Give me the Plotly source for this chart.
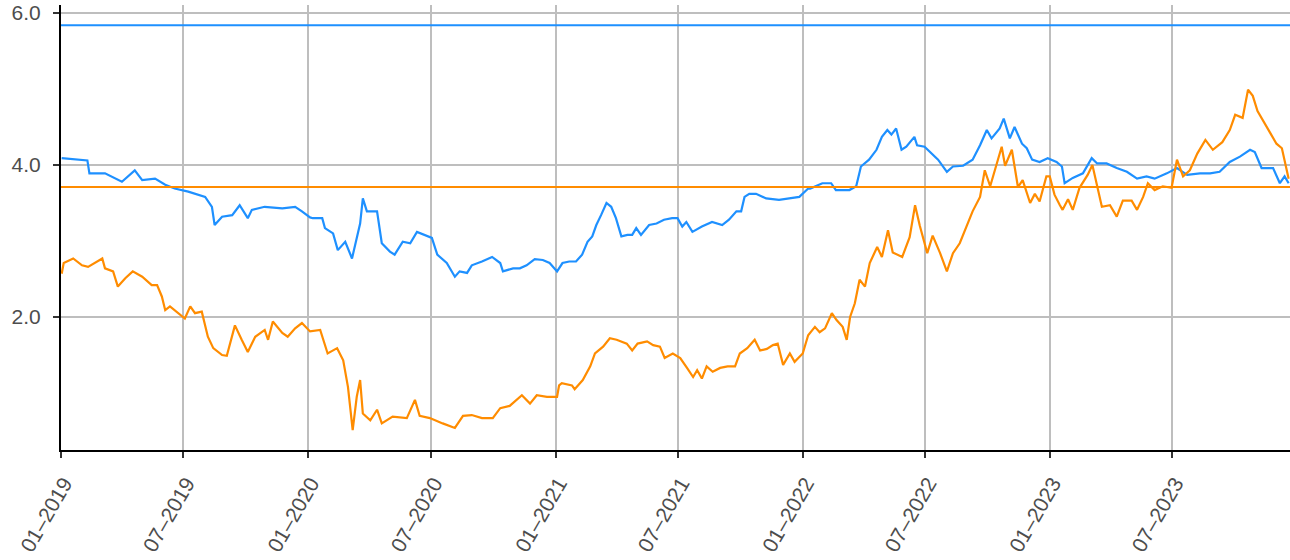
import plotly.graph_objects as go

blue_dates = [
    "2019-01-02", "2019-02-05", "2019-02-09", "2019-02-12", "2019-03-07", "2019-04-01", "2019-04-20",
    "2019-05-01", "2019-05-20", "2019-06-04", "2019-06-18", "2019-07-08", "2019-08-02", "2019-08-12",
    "2019-08-16", "2019-08-27", "2019-09-11", "2019-09-22", "2019-10-04", "2019-10-10", "2019-10-29",
    "2019-11-24", "2019-12-13", "2019-12-23", "2020-01-04", "2020-01-08", "2020-01-22", "2020-01-26",
    "2020-02-07", "2020-02-14", "2020-02-25", "2020-03-06", "2020-03-13", "2020-03-18", "2020-03-22",
    "2020-03-28", "2020-04-12", "2020-04-19", "2020-05-01", "2020-05-08", "2020-05-20", "2020-05-31",
    "2020-06-10", "2020-06-25", "2020-07-02", "2020-07-10", "2020-07-24", "2020-08-05", "2020-08-12",
    "2020-08-23", "2020-08-30", "2020-09-14", "2020-09-29", "2020-10-11", "2020-10-15", "2020-10-30",
    "2020-11-09", "2020-11-19", "2020-12-01", "2020-12-13", "2020-12-23", "2021-01-03", "2021-01-11",
    "2021-01-21", "2021-01-31", "2021-02-09", "2021-02-17", "2021-02-24", "2021-03-02", "2021-03-09",
    "2021-03-17", "2021-03-24", "2021-03-31", "2021-04-08", "2021-04-17", "2021-04-24", "2021-04-30",
    "2021-05-07", "2021-05-19", "2021-05-30", "2021-06-10", "2021-06-22", "2021-06-30", "2021-07-07",
    "2021-07-13", "2021-07-22", "2021-08-05", "2021-08-20", "2021-09-04", "2021-09-14", "2021-09-25",
    "2021-10-02", "2021-10-07", "2021-10-14", "2021-10-24", "2021-11-08", "2021-11-27", "2021-12-12",
    "2021-12-27", "2022-01-09", "2022-01-12", "2022-01-30", "2022-02-12", "2022-02-19", "2022-03-11",
    "2022-03-21", "2022-03-28", "2022-04-09", "2022-04-20", "2022-04-28", "2022-05-06", "2022-05-12",
    "2022-05-19", "2022-05-27", "2022-06-03", "2022-06-15", "2022-06-19", "2022-06-30", "2022-07-11",
    "2022-07-20", "2022-08-02", "2022-08-11", "2022-08-26", "2022-09-09", "2022-09-20", "2022-09-30",
    "2022-10-07", "2022-10-19", "2022-10-25", "2022-11-03", "2022-11-10", "2022-11-21", "2022-11-28",
    "2022-12-06", "2022-12-17", "2022-12-29", "2023-01-11", "2023-01-19", "2023-01-23", "2023-02-04",
    "2023-02-19", "2023-03-04", "2023-03-12", "2023-03-26", "2023-04-10", "2023-04-25", "2023-05-10",
    "2023-05-24", "2023-06-05", "2023-06-23", "2023-07-08", "2023-07-23", "2023-08-11", "2023-08-26",
    "2023-09-09", "2023-09-24", "2023-10-09", "2023-10-24", "2023-10-31", "2023-11-10", "2023-11-27",
    "2023-12-07", "2023-12-14", "2023-12-20",
]
blue_values = [
    4.09, 4.07, 4.06, 3.89, 3.89, 3.78, 3.93,
    3.80, 3.82, 3.74, 3.69, 3.65, 3.58, 3.45,
    3.21, 3.32, 3.34, 3.47, 3.30, 3.41, 3.45,
    3.43, 3.45, 3.39, 3.31, 3.30, 3.30, 3.17,
    3.10, 2.88, 2.99, 2.77, 3.03, 3.23, 3.56,
    3.39, 3.39, 2.97, 2.86, 2.82, 2.99, 2.97,
    3.12, 3.06, 3.04, 2.82, 2.71, 2.53, 2.60,
    2.58, 2.68, 2.73, 2.79, 2.71, 2.60, 2.64,
    2.64, 2.68, 2.76, 2.75, 2.71, 2.60, 2.71,
    2.73, 2.73, 2.82, 2.99, 3.06, 3.21, 3.34,
    3.50, 3.45, 3.30, 3.06, 3.08, 3.08, 3.17,
    3.08, 3.21, 3.23, 3.28, 3.30, 3.30, 3.19,
    3.25, 3.12, 3.19, 3.25, 3.21, 3.28, 3.39,
    3.39, 3.58, 3.62, 3.62, 3.56, 3.54, 3.56,
    3.58, 3.69, 3.69, 3.76, 3.76, 3.67, 3.67,
    3.72, 3.98, 4.07, 4.20, 4.37, 4.46, 4.40,
    4.48, 4.20, 4.24, 4.37, 4.26, 4.24, 4.15,
    4.07, 3.91, 3.98, 3.99, 4.07, 4.26, 4.46,
    4.35, 4.48, 4.61, 4.35, 4.50, 4.28, 4.22,
    4.07, 4.04, 4.09, 4.04, 3.98, 3.76, 3.83,
    3.89, 4.09, 4.02, 4.02, 3.96, 3.91, 3.82,
    3.85, 3.82, 3.89, 3.96, 3.87, 3.89, 3.89,
    3.91, 4.04, 4.11, 4.20, 4.17, 3.96, 3.96,
    3.76, 3.85, 3.76,
]

orange_dates = [
    "2019-01-02", "2019-01-05", "2019-01-19", "2019-02-01", "2019-02-10", "2019-03-03", "2019-03-07",
    "2019-03-19", "2019-03-26", "2019-04-06", "2019-04-17", "2019-05-01", "2019-05-15", "2019-05-23",
    "2019-05-30", "2019-06-04", "2019-06-11", "2019-06-23", "2019-07-03", "2019-07-11", "2019-07-18",
    "2019-07-28", "2019-08-06", "2019-08-14", "2019-08-27", "2019-09-03", "2019-09-15", "2019-09-25",
    "2019-10-04", "2019-10-15", "2019-10-29", "2019-11-03", "2019-11-10", "2019-11-24", "2019-12-02",
    "2019-12-13", "2019-12-23", "2020-01-04", "2020-01-19", "2020-01-30", "2020-02-13", "2020-02-22",
    "2020-02-29", "2020-03-07", "2020-03-13", "2020-03-18", "2020-03-22", "2020-04-02", "2020-04-12",
    "2020-04-19", "2020-05-05", "2020-05-26", "2020-06-07", "2020-06-14", "2020-06-29", "2020-07-18",
    "2020-08-05", "2020-08-17", "2020-08-30", "2020-09-14", "2020-09-30", "2020-10-11", "2020-10-25",
    "2020-11-12", "2020-11-24", "2020-12-04", "2020-12-19", "2021-01-03", "2021-01-06", "2021-01-10",
    "2021-01-25", "2021-01-29", "2021-02-10", "2021-02-21", "2021-02-28", "2021-03-12", "2021-03-22",
    "2021-04-01", "2021-04-16", "2021-04-24", "2021-05-02", "2021-05-16", "2021-05-25", "2021-06-04",
    "2021-06-11", "2021-06-23", "2021-07-04", "2021-07-14", "2021-07-23", "2021-07-29", "2021-08-05",
    "2021-08-12", "2021-08-21", "2021-09-01", "2021-09-12", "2021-09-23", "2021-09-30", "2021-10-11",
    "2021-10-22", "2021-10-30", "2021-11-09", "2021-11-18", "2021-11-25", "2021-12-03", "2021-12-13",
    "2021-12-20", "2022-01-01", "2022-01-09", "2022-01-19", "2022-01-26", "2022-02-03", "2022-02-13",
    "2022-02-20", "2022-03-01", "2022-03-07", "2022-03-12", "2022-03-19", "2022-03-26", "2022-04-03",
    "2022-04-10", "2022-04-21", "2022-04-28", "2022-05-07", "2022-05-14", "2022-05-28", "2022-06-08",
    "2022-06-16", "2022-06-23", "2022-07-04", "2022-07-12", "2022-07-23", "2022-08-02", "2022-08-11",
    "2022-08-21", "2022-09-01", "2022-09-09", "2022-09-20", "2022-09-27", "2022-10-05", "2022-10-15",
    "2022-10-22", "2022-10-27", "2022-11-06", "2022-11-15", "2022-11-22", "2022-12-03", "2022-12-10",
    "2022-12-17", "2022-12-27", "2023-01-01", "2023-01-08", "2023-01-16", "2023-01-20", "2023-01-28",
    "2023-02-04", "2023-02-14", "2023-02-26", "2023-03-05", "2023-03-13", "2023-03-19", "2023-03-31",
    "2023-04-10", "2023-04-19", "2023-05-02", "2023-05-10", "2023-05-19", "2023-05-26", "2023-06-05",
    "2023-06-17", "2023-06-30", "2023-07-08", "2023-07-17", "2023-07-27", "2023-08-07", "2023-08-19",
    "2023-08-30", "2023-09-13", "2023-09-24", "2023-10-02", "2023-10-13", "2023-10-21", "2023-10-28",
    "2023-11-04", "2023-11-12", "2023-11-22", "2023-12-02", "2023-12-10", "2023-12-17", "2023-12-20",
]
orange_values = [
    2.57, 2.71, 2.77, 2.68, 2.66, 2.77, 2.64,
    2.60, 2.40, 2.51, 2.60, 2.53, 2.42, 2.42,
    2.27, 2.09, 2.14, 2.05, 1.98, 2.14, 2.05,
    2.07, 1.74, 1.59, 1.50, 1.49, 1.89, 1.70,
    1.54, 1.74, 1.83, 1.70, 1.94, 1.79, 1.74,
    1.85, 1.92, 1.81, 1.83, 1.52, 1.59, 1.43,
    1.08, 0.51, 0.95, 1.17, 0.73, 0.64, 0.78,
    0.60, 0.69, 0.67, 0.91, 0.70, 0.67, 0.60,
    0.54, 0.70, 0.71, 0.67, 0.67, 0.80, 0.83,
    0.97, 0.86, 0.97, 0.95, 0.95, 1.10, 1.13,
    1.10, 1.05, 1.17, 1.35, 1.52, 1.61, 1.72,
    1.70, 1.65, 1.56, 1.65, 1.68, 1.63, 1.61,
    1.46, 1.52, 1.46, 1.33, 1.21, 1.30, 1.19,
    1.35, 1.28, 1.33, 1.35, 1.35, 1.52, 1.59,
    1.70, 1.56, 1.58, 1.63, 1.65, 1.37, 1.52,
    1.41, 1.52, 1.76, 1.87, 1.80, 1.85, 2.05,
    1.96, 1.87, 1.70, 2.00, 2.18, 2.49, 2.40,
    2.71, 2.92, 2.79, 3.14, 2.85, 2.79, 3.05,
    3.47, 3.20, 2.84, 3.07, 2.84, 2.60, 2.84,
    2.97, 3.20, 3.39, 3.58, 3.93, 3.72, 4.04,
    4.24, 3.99, 4.20, 3.71, 3.80, 3.50, 3.62,
    3.52, 3.85, 3.85, 3.61, 3.47, 3.41, 3.55,
    3.41, 3.70, 3.87, 4.00, 3.67, 3.45, 3.47,
    3.32, 3.53, 3.53, 3.41, 3.58, 3.76, 3.67,
    3.72, 3.70, 4.07, 3.85, 3.93, 4.15, 4.33,
    4.20, 4.30, 4.46, 4.66, 4.62, 4.99, 4.91,
    4.71, 4.59, 4.44, 4.28, 4.22, 3.96, 3.82,
]

blue_level = 5.84
orange_level = 3.71

BLUE = "#1E90FF"
ORANGE = "#FF8C00"

fig = go.Figure()
fig.add_trace(go.Scatter(x=blue_dates, y=blue_values, mode="lines",
                         line=dict(color=BLUE, width=2.2), showlegend=False))
fig.add_trace(go.Scatter(x=orange_dates, y=orange_values, mode="lines",
                         line=dict(color=ORANGE, width=2.2), showlegend=False))
fig.add_hline(y=blue_level, line=dict(color=BLUE, width=2))
fig.add_hline(y=orange_level, line=dict(color=ORANGE, width=2))

fig.update_layout(
    width=1290, height=560,
    margin=dict(l=61, r=0, t=5, b=110),
    plot_bgcolor="white", paper_bgcolor="white",
    font=dict(family="Liberation Sans, Arial, sans-serif", size=21, color="#4d4d4d"),
)
fig.update_xaxes(
    type="date", range=["2019-01-01", "2023-12-22"],
    tick0="2019-01-01", dtick="M6", tickformat="%m–%Y", tickangle=-60,
    showgrid=True, gridcolor="#bebebe", gridwidth=2,
    showline=True, linecolor="black", linewidth=2,
    ticks="outside", ticklen=6, tickwidth=2, tickcolor="#333333",
    ticklabelshift=3, ticklabelstandoff=5,
    zeroline=False,
)
fig.update_yaxes(
    range=[0.25, 6.105], tickvals=[2, 4, 6], tickformat=".1f",
    showgrid=True, gridcolor="#bebebe", gridwidth=2,
    showline=True, linecolor="black", linewidth=2,
    ticks="outside", ticklen=6, tickwidth=2, tickcolor="#333333",
    ticklabelstandoff=8, ticklabeloverflow="allow",
    zeroline=False,
)

fig.write_html(
    "out.html",
    config={"displayModeBar": False},
    post_script="document.body.style.margin='0';document.body.style.overflow='hidden';",
)
